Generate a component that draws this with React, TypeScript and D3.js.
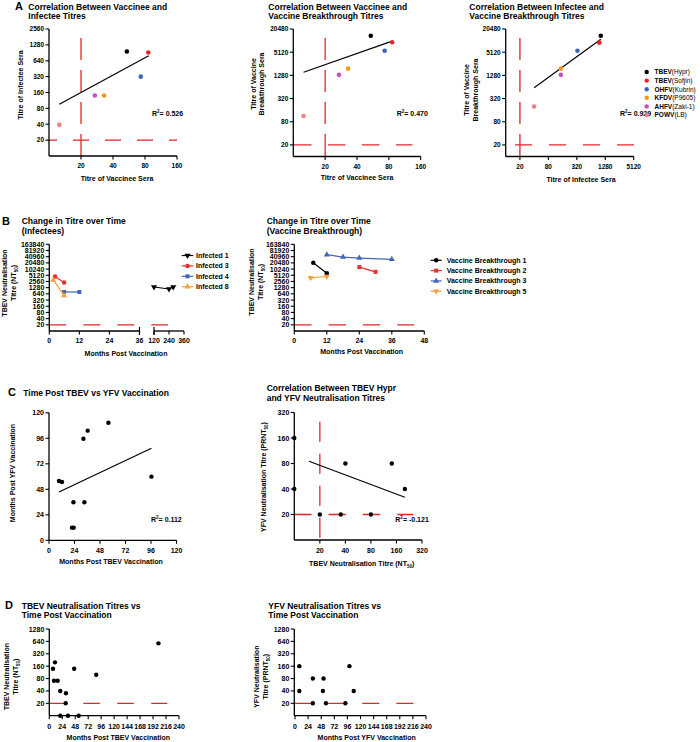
import React from 'react';
import * as d3 from 'd3';

const FONT = "'Liberation Sans', Arial, Helvetica, sans-serif";
const RED = '#e4262b';

// ---------- Panel A ----------
const strainNames = ['TBEV', 'TBEV', 'OHFV', 'KFDV', 'AHFV', 'POWV'];
const strainIsolates = ['(Hypr)', '(Sofjin)', '(Kubrin)', '(P9605)', '(Zaki-1)', '(LB)'];
const strainColors = ['#000000', '#e4262b', '#3f63b8', '#f7941d', '#c64fc8', '#f08080'];
const vaccineeSera = [54, 86, 73, 33, 27, 12.5];
const infecteeSeraA1 = [960, 920, 320, 140, 140, 39];
const breakthroughSeraA2 = [13700, 9300, 5560, 1920, 1320, 112];
const infecteeSeraA3 = [1030, 960, 330, 147, 147, 40];
const breakthroughSeraA3 = [13700, 9050, 5560, 1920, 1320, 198];
const fitA1 = [[12.5, 96], [86.7, 797]];
const fitA2 = [[12.5, 1540], [82, 9480]];
const fitA3 = [[40, 612], [1030, 11100]];
const r2A = ['0.526', '0.470', '0.929'];
const infecteeTicksY = [20, 40, 80, 160, 320, 640, 1280, 2560];
const vaccineeTicksX = [20, 40, 80, 160];
const breakthroughTicksY = [20, 80, 320, 1280, 5120, 20480];
const infecteeTicksX = [20, 80, 320, 1280, 5120];

// ---------- Panel B ----------
const ntTicksB = [20, 40, 80, 160, 320, 640, 1280, 2560, 5120, 10240, 20480, 40960, 81920, 163840];
const monthTicksB1a = [0, 12, 24, 36];
const monthTicksB1b = [120, 240, 360];
const monthTicksB2 = [0, 12, 24, 36, 48];
const infectedNames = ['Infected 1', 'Infected 3', 'Infected 4', 'Infected 8'];
const infectedColors = ['#000000', '#e8302a', '#4364b8', '#f7a13a'];
const infectedShapes = ['down', 'circle', 'square', 'up'];
const infected1Months = [120, 240, 274];
const infected1Titres = [1380, 1100, 1380];
const infected3Months = [2.3, 5.9];
const infected3Titres = [4460, 2270];
const infected4Months = [5.9, 12];
const infected4Titres = [790, 790];
const infected8Months = [1.6, 5.9];
const infected8Titres = [3050, 527];
const breakthroughNames = ['Vaccine Breakthrough 1', 'Vaccine Breakthrough 2', 'Vaccine Breakthrough 3', 'Vaccine Breakthrough 5'];
const breakthroughColors = ['#000000', '#e8302a', '#4364b8', '#f7a13a'];
const breakthroughShapes = ['circle', 'square', 'up', 'down'];
const vb1Months = [7, 12];
const vb1Titres = [20700, 6480];
const vb2Months = [24, 30];
const vb2Titres = [12760, 7500];
const vb3Months = [12, 18, 24, 36];
const vb3Titres = [51100, 39300, 35200, 30400];
const vb5Months = [6, 12];
const vb5Titres = [3830, 4460];

// ---------- Panel C ----------
const monthTicksC = [0, 24, 48, 72, 96, 120];
const tbevMonthsC = [32.4, 36.4, 55.9, 9.4, 12.2, 23, 33.3, 21.6, 23.2, 96.4];
const yfvMonthsC = [95.6, 103.2, 110.7, 55.8, 54.9, 35.8, 35.8, 11.9, 11.9, 59.9];
const fitC1 = [[9.4, 45.5], [96.4, 86.6]];
const tbevNtC = [10, 10, 40, 141, 201, 20, 35.3, 80];
const yfvPrntC = [160, 40, 80, 80, 40, 20, 20, 20];
const fitC2 = [[14.9, 85], [201, 32]];
const titreTicksC = [20, 40, 80, 160, 320];

// ---------- Panel D ----------
const titreTicksD = [20, 40, 80, 160, 320, 640, 1280];
const monthTicksD = [0, 24, 48, 72, 96, 120, 144, 168, 192, 216, 240];
const tbevMonthsD = [6.8, 10.5, 8.7, 15.5, 20.3, 30.8, 30.3, 20.3, 34.5, 54.3, 46, 86.8, 202];
const tbevTitresD = [138, 198, 71, 71, 40, 35, 20, 10, 10, 10, 138, 99, 573];
const yfvMonthsD = [7.9, 7.9, 32.7, 32.7, 52.3, 51.1, 56.7, 92.3, 99.7, 107.6];
const yfvTitresD = [160, 40, 80, 20, 80, 40, 20, 20, 160, 40];

type Sc = (v: number) => number;

function LeftAxis({ x, top, bottom, scale, ticks, fs }: { x: number; top: number; bottom: number; scale: Sc; ticks: number[]; fs: number }) {
  return (
    <g>
      <line x1={x} x2={x} y1={top} y2={bottom} stroke="#000" strokeWidth={1.3} />
      {ticks.map((t) => (
        <g key={t}>
          <line x1={x - 3.5} x2={x} y1={scale(t)} y2={scale(t)} stroke="#000" strokeWidth={1.1} />
          <text x={x - 5} y={scale(t)} dy="0.36em" textAnchor="end" fontSize={fs} fontWeight="bold">{t}</text>
        </g>
      ))}
    </g>
  );
}

function BottomAxis({ y, left, right, scale, ticks, fs, labelY }: { y: number; left: number; right: number; scale: Sc; ticks: number[]; fs: number; labelY: number }) {
  return (
    <g>
      <line x1={left} x2={right} y1={y} y2={y} stroke="#000" strokeWidth={1.3} />
      {ticks.map((t) => (
        <g key={t}>
          <line x1={scale(t)} x2={scale(t)} y1={y} y2={y + 3.5} stroke="#000" strokeWidth={1.1} />
          <text x={scale(t)} y={labelY} textAnchor="middle" fontSize={fs} fontWeight="bold">{t}</text>
        </g>
      ))}
    </g>
  );
}

function HDash({ y, x0, x1, dash = '17,17', offset = 0 }: { y: number; x0: number; x1: number; dash?: string; offset?: number }) {
  return <line x1={x0} x2={x1} y1={y} y2={y} stroke={RED} strokeWidth={1.3} strokeDasharray={dash} strokeDashoffset={offset} />;
}
function VDash({ x, y0, y1, dash = '22,10', offset = 0 }: { x: number; y0: number; y1: number; dash?: string; offset?: number }) {
  return <line x1={x} x2={x} y1={y0} y2={y1} stroke={RED} strokeWidth={1.3} strokeDasharray={dash} strokeDashoffset={offset} />;
}

function shapePath(shape: string, size: number) {
  const t = shape === 'circle' ? d3.symbolCircle : shape === 'square' ? d3.symbolSquare : d3.symbolTriangle;
  return d3.symbol().type(t).size(size)() as string;
}
function Marker({ x, y, shape, color, size = 16 }: { x: number; y: number; shape: string; color: string; size?: number }) {
  const rot = shape === 'down' ? ' rotate(180)' : '';
  return <path d={shapePath(shape, size)} transform={`translate(${x},${y})${rot}`} fill={color} />;
}

function R2({ x, y, value }: { x: number; y: number; value: string }) {
  return (
    <text x={x} y={y} fontSize={7} fontWeight="bold">
      R<tspan fontSize={4.5} dy={-3}>2</tspan><tspan dy={3}>= {value}</tspan>
    </text>
  );
}

function Title({ x, y, lines }: { x: number; y: number; lines: string[] }) {
  return (
    <g>
      {lines.map((l, i) => (
        <text key={i} x={x} y={y + i * 9.8} fontSize={8.5} fontWeight="bold">{l}</text>
      ))}
    </g>
  );
}

function Letter({ x, y, t }: { x: number; y: number; t: string }) {
  return <text x={x} y={y} fontSize={11} fontWeight="bold">{t}</text>;
}

function RotLabel({ x, y, children }: { x: number; y: number; children: React.ReactNode }) {
  return (
    <text transform={`translate(${x},${y}) rotate(-90)`} textAnchor="middle" fontSize={7} fontWeight="bold">{children}</text>
  );
}

function Series({ xs, ys, sx, sy, color, shape }: { xs: number[]; ys: number[]; sx: Sc; sy: Sc; color: string; shape: string }) {
  const line = d3.line<number>().x((_, i) => sx(xs[i])).y((_, i) => sy(ys[i]));
  return (
    <g>
      <path d={line(xs) as string} fill="none" stroke={color} strokeWidth={1.2} />
      {xs.map((v, i) => <Marker key={i} x={sx(v)} y={sy(ys[i])} shape={shape} color={color} />)}
    </g>
  );
}

export default function App() {
  // Panel A scales
  const a1x = d3.scaleLog().base(2).domain([10, 160]).range([49, 177]);
  const a1y = d3.scaleLog().base(2).domain([10, 2560]).range([156, 29]);
  const a2x = d3.scaleLog().base(2).domain([10, 160]).range([293.3, 420.7]);
  const a2y = d3.scaleLog().base(2).domain([10, 20480]).range([156.5, 29]);
  const a3x = d3.scaleLog().base(2).domain([10, 5120]).range([505.7, 633.7]);
  const a3y = d3.scaleLog().base(2).domain([10, 20480]).range([156.5, 29]);

  // Panel B scales
  const b1y = d3.scaleLog().base(2).domain([10, 163840]).range([331, 244.3]);
  const b1xa = d3.scaleLinear().domain([0, 36]).range([49.3, 139.5]);
  const b1xb = d3.scaleLinear().domain([120, 360]).range([154, 184]);
  const b1x = (v: number) => (v > 60 ? b1xb(v) : b1xa(v));
  const b2y = d3.scaleLog().base(2).domain([10, 163840]).range([331, 244.3]);
  const b2x = d3.scaleLinear().domain([0, 48]).range([294.3, 424.3]);

  // Panel C scales
  const c1x = d3.scaleLinear().domain([0, 120]).range([49, 176.5]);
  const c1y = d3.scaleLinear().domain([0, 120]).range([540.3, 412.8]);
  const c2x = d3.scaleLog().base(2).domain([10, 320]).range([294.3, 422]);
  const c2y = d3.scaleLog().base(2).domain([10, 320]).range([540, 412.5]);

  // Panel D scales
  const d1x = d3.scaleLinear().domain([0, 240]).range([49.3, 179]);
  const d1y = d3.scaleLog().base(2).domain([10, 1280]).range([715.7, 629]);
  const d2x = d3.scaleLinear().domain([0, 240]).range([295, 426]);
  const d2y = d3.scaleLog().base(2).domain([10, 1280]).range([715.7, 629]);

  const infectedXs = [infected1Months, infected3Months, infected4Months, infected8Months];
  const infectedYs = [infected1Titres, infected3Titres, infected4Titres, infected8Titres];
  const vbXs = [vb1Months, vb2Months, vb3Months, vb5Months];
  const vbYs = [vb1Titres, vb2Titres, vb3Titres, vb5Titres];

  const fitLine = (f: number[][], sx: Sc, sy: Sc) => (
    <line x1={sx(f[0][0])} y1={sy(f[0][1])} x2={sx(f[1][0])} y2={sy(f[1][1])} stroke="#000" strokeWidth={1.2} />
  );

  return (
    <svg width={700} height={742} style={{ position: 'absolute', left: 0, top: 0, background: '#fff' }} fontFamily={FONT}>
      <rect width={700} height={742} fill="#fff" />

      {/* ================= A1 ================= */}
      <Letter x={15} y={10} t="A" />
      <Title x={28.3} y={9.5} lines={['Correlation Between Vaccinee and', 'Infectee Titres']} />
      <VDash x={a1x(20)} y0={38} y1={156} />
      <HDash y={a1y(20)} x0={49} x1={177} dash="16,16" offset={8} />
      <LeftAxis x={49} top={29} bottom={156} scale={a1y} ticks={infecteeTicksY} fs={6.5} />
      <BottomAxis y={156} left={49} right={177} scale={a1x} ticks={vaccineeTicksX} fs={6.5} labelY={168} />
      {fitLine(fitA1, a1x, a1y)}
      {vaccineeSera.map((v, i) => <circle key={i} cx={a1x(v)} cy={a1y(infecteeSeraA1[i])} r={2.3} fill={strainColors[i]} />)}
      <R2 x={152} y={115.5} value={r2A[0]} />
      <text x={117} y={181} textAnchor="middle" fontSize={7} fontWeight="bold">Titre of Vaccinee Sera</text>
      <RotLabel x={22.5} y={85}>Titre of Infectee Sera</RotLabel>

      {/* ================= A2 ================= */}
      <Title x={268.3} y={9.5} lines={['Correlation Between Vaccinee and', 'Vaccine Breakthrough Titres']} />
      <VDash x={a2x(20)} y0={38} y1={156.5} />
      <HDash y={a2y(20)} x0={294} x1={412.5} dash="17.5,16.5" />
      <LeftAxis x={293.3} top={29} bottom={156.5} scale={a2y} ticks={breakthroughTicksY} fs={6.5} />
      <BottomAxis y={156.5} left={293.3} right={420.7} scale={a2x} ticks={vaccineeTicksX} fs={6.5} labelY={169} />
      {fitLine(fitA2, a2x, a2y)}
      {vaccineeSera.map((v, i) => <circle key={i} cx={a2x(v)} cy={a2y(breakthroughSeraA2[i])} r={2.3} fill={strainColors[i]} />)}
      <R2 x={396.7} y={115.5} value={r2A[1]} />
      <text x={357} y={180} textAnchor="middle" fontSize={7} fontWeight="bold">Titre of Vaccinee Sera</text>
      <RotLabel x={255.8} y={84}>Titre of Vaccine</RotLabel>
      <RotLabel x={264.2} y={84}>Breakthrough Sera</RotLabel>

      {/* ================= A3 ================= */}
      <Title x={469.3} y={9.5} lines={['Correlation Between Infectee and', 'Vaccine Breakthrough Titres']} />
      <VDash x={a3x(20)} y0={38} y1={156.5} />
      <HDash y={a3y(20)} x0={515} x1={634} dash="17,17" />
      <LeftAxis x={505.7} top={29} bottom={156.5} scale={a3y} ticks={breakthroughTicksY} fs={6.5} />
      <BottomAxis y={156.5} left={505.7} right={633.7} scale={a3x} ticks={infecteeTicksX} fs={6.5} labelY={168.5} />
      {fitLine(fitA3, a3x, a3y)}
      {infecteeSeraA3.map((v, i) => <circle key={i} cx={a3x(v)} cy={a3y(breakthroughSeraA3[i])} r={2.3} fill={strainColors[i]} />)}
      <R2 x={620} y={116} value={r2A[2]} />
      <text x={581} y={181.5} textAnchor="middle" fontSize={7} fontWeight="bold">Titre of Infectee Sera</text>
      <RotLabel x={469.2} y={90}>Titre of Vaccine</RotLabel>
      <RotLabel x={477.5} y={90}>Breakthrough Sera</RotLabel>
      {strainNames.map((n, i) => (
        <g key={i}>
          <circle cx={646.7} cy={72 + i * 8.6} r={2.2} fill={strainColors[i]} />
          <text x={654.5} y={72 + i * 8.6} dy="0.36em" fontSize={6.5}>
            <tspan fontWeight="bold">{n}</tspan>{strainIsolates[i]}
          </text>
        </g>
      ))}

      {/* ================= B1 ================= */}
      <Letter x={2} y={225} t="B" />
      <Title x={21.7} y={224} lines={['Change in Titre over Time', '(Infectees)']} />
      <HDash y={b1y(20)} x0={49.3} x1={168} dash="17,17" />
      <LeftAxis x={49.3} top={244.3} bottom={331} scale={b1y} ticks={ntTicksB} fs={7} />
      <BottomAxis y={331} left={49.3} right={139.5} scale={b1xa} ticks={monthTicksB1a} fs={7} labelY={343} />
      <BottomAxis y={331} left={154} right={184} scale={b1xb} ticks={monthTicksB1b} fs={7} labelY={343} />
      <line x1={139.5} x2={139.5} y1={327} y2={335} stroke="#000" strokeWidth={1.2} />
      <line x1={154} x2={154} y1={327} y2={335} stroke="#000" strokeWidth={1.2} />
      {infectedNames.map((n, i) => (
        <Series key={n} xs={infectedXs[i]} ys={infectedYs[i]} sx={b1x} sy={b1y} color={infectedColors[i]} shape={infectedShapes[i]} />
      ))}
      {infectedNames.map((n, i) => (
        <g key={n}>
          <line x1={181.7} x2={193.3} y1={255.5 + i * 10.4} y2={255.5 + i * 10.4} stroke={infectedColors[i]} strokeWidth={1.2} />
          <Marker x={187.5} y={255.5 + i * 10.4} shape={infectedShapes[i]} color={infectedColors[i]} />
          <text x={196} y={255.5 + i * 10.4} dy="0.36em" fontSize={7} fontWeight="bold">{n}</text>
        </g>
      ))}
      <text x={126} y={355.5} textAnchor="middle" fontSize={7} fontWeight="bold">Months Post Vaccination</text>
      <RotLabel x={6.5} y={283}>TBEV Neutralisation</RotLabel>
      <RotLabel x={15.5} y={283}>Titre (NT<tspan fontSize={4.5} dy={2}>50</tspan><tspan dy={-2}>)</tspan></RotLabel>

      {/* ================= B2 ================= */}
      <Title x={266.7} y={224} lines={['Change in Titre over Time', '(Vaccine Breakthrough)']} />
      <HDash y={b2y(20)} x0={294.3} x1={414} dash="17.3,17" />
      <LeftAxis x={294.3} top={244.3} bottom={331} scale={b2y} ticks={ntTicksB} fs={7} />
      <BottomAxis y={331} left={294.3} right={424.3} scale={b2x} ticks={monthTicksB2} fs={7} labelY={343} />
      {breakthroughNames.map((n, i) => (
        <Series key={n} xs={vbXs[i]} ys={vbYs[i]} sx={b2x} sy={b2y} color={breakthroughColors[i]} shape={breakthroughShapes[i]} />
      ))}
      {breakthroughNames.map((n, i) => (
        <g key={n}>
          <line x1={430.7} x2={441.7} y1={260.3 + i * 10.3} y2={260.3 + i * 10.3} stroke={breakthroughColors[i]} strokeWidth={1.2} />
          <Marker x={436.2} y={260.3 + i * 10.3} shape={breakthroughShapes[i]} color={breakthroughColors[i]} />
          <text x={446.7} y={260.3 + i * 10.3} dy="0.36em" fontSize={7} fontWeight="bold">{n}</text>
        </g>
      ))}
      <text x={361.7} y={354} textAnchor="middle" fontSize={7} fontWeight="bold">Months Post Vaccination</text>
      <RotLabel x={254.2} y={282}>TBEV Neutralisation</RotLabel>
      <RotLabel x={263.2} y={282}>Titre (NT<tspan fontSize={4.5} dy={2}>50</tspan><tspan dy={-2}>)</tspan></RotLabel>

      {/* ================= C1 ================= */}
      <Letter x={8} y={396} t="C" />
      <Title x={23.3} y={395.5} lines={['Time Post TBEV vs YFV Vaccination']} />
      <LeftAxis x={49} top={412.8} bottom={540.3} scale={c1y} ticks={monthTicksC} fs={7} />
      <BottomAxis y={540.3} left={49} right={176.5} scale={c1x} ticks={monthTicksC} fs={7} labelY={552.5} />
      {fitLine(fitC1, c1x, c1y)}
      {tbevMonthsC.map((v, i) => <circle key={i} cx={c1x(v)} cy={c1y(yfvMonthsC[i])} r={2.2} fill="#000" />)}
      <R2 x={151} y={522} value="0.112" />
      <text x={111} y={564} textAnchor="middle" fontSize={7} fontWeight="bold">Months Post TBEV Vaccination</text>
      <RotLabel x={14.5} y={473}>Months Post YFV Vaccination</RotLabel>

      {/* ================= C2 ================= */}
      <Title x={266.7} y={391} lines={['Correlation Between TBEV Hypr', 'and YFV Neutralisation Titres']} />
      <VDash x={c2x(20)} y0={421.7} y1={540} dash="20,12" />
      <HDash y={c2y(20)} x0={294.3} x1={413.3} dash="17.3,17" />
      <LeftAxis x={294.3} top={412.5} bottom={540} scale={c2y} ticks={titreTicksC} fs={7} />
      <BottomAxis y={540} left={294.3} right={422} scale={c2x} ticks={titreTicksC} fs={7} labelY={552.5} />
      {fitLine(fitC2, c2x, c2y)}
      {tbevNtC.map((v, i) => <circle key={i} cx={c2x(v)} cy={c2y(yfvPrntC[i])} r={2.2} fill="#000" />)}
      <R2 x={395.3} y={522} value="-0.121" />
      <text x={361.7} y={565.5} textAnchor="middle" fontSize={7} fontWeight="bold">
        TBEV Neutralisation Titre (NT<tspan fontSize={4.5} dy={2}>50</tspan><tspan dy={-2}>)</tspan>
      </text>
      <RotLabel x={265.8} y={477}>YFV Neutralisation Titre (PRNT<tspan fontSize={4.5} dy={2}>50</tspan><tspan dy={-2}>)</tspan></RotLabel>

      {/* ================= D1 ================= */}
      <Letter x={5} y={609} t="D" />
      <Title x={21.7} y={608.5} lines={['TBEV Neutralisation Titres vs', 'Time Post Vaccination']} />
      <HDash y={d1y(20)} x0={49.3} x1={167.3} dash="16.5,17.5" />
      <LeftAxis x={49.3} top={629} bottom={715.7} scale={d1y} ticks={titreTicksD} fs={7} />
      <BottomAxis y={715.7} left={49.3} right={179} scale={d1x} ticks={monthTicksD} fs={7} labelY={729} />
      {tbevMonthsD.map((v, i) => <circle key={i} cx={d1x(v)} cy={d1y(tbevTitresD[i])} r={2.2} fill="#000" />)}
      <text x={118.3} y={739.5} textAnchor="middle" fontSize={7} fontWeight="bold">Months Post TBEV Vaccination</text>
      <RotLabel x={8.8} y={676.7}>TBEV Neutralisation</RotLabel>
      <RotLabel x={17.5} y={676.7}>Titre (NT<tspan fontSize={4.5} dy={2}>50</tspan><tspan dy={-2}>)</tspan></RotLabel>

      {/* ================= D2 ================= */}
      <Title x={268.3} y={608.5} lines={['YFV Neutralisation Titres vs', 'Time Post Vaccination']} />
      <HDash y={d2y(20)} x0={294.3} x1={413.3} dash="17,17" />
      <LeftAxis x={294.3} top={629} bottom={715.7} scale={d2y} ticks={titreTicksD} fs={7} />
      <BottomAxis y={715.7} left={294.3} right={426} scale={d2x} ticks={monthTicksD} fs={7} labelY={729} />
      {yfvMonthsD.map((v, i) => <circle key={i} cx={d2x(v)} cy={d2y(yfvTitresD[i])} r={2.2} fill="#000" />)}
      <text x={366.7} y={739.5} textAnchor="middle" fontSize={7} fontWeight="bold">Months Post YFV Vaccination</text>
      <RotLabel x={258.8} y={676.7}>YFV Neutralisation</RotLabel>
      <RotLabel x={267.5} y={676.7}>Titre (PRNT<tspan fontSize={4.5} dy={2}>50</tspan><tspan dy={-2}>)</tspan></RotLabel>
    </svg>
  );
}
